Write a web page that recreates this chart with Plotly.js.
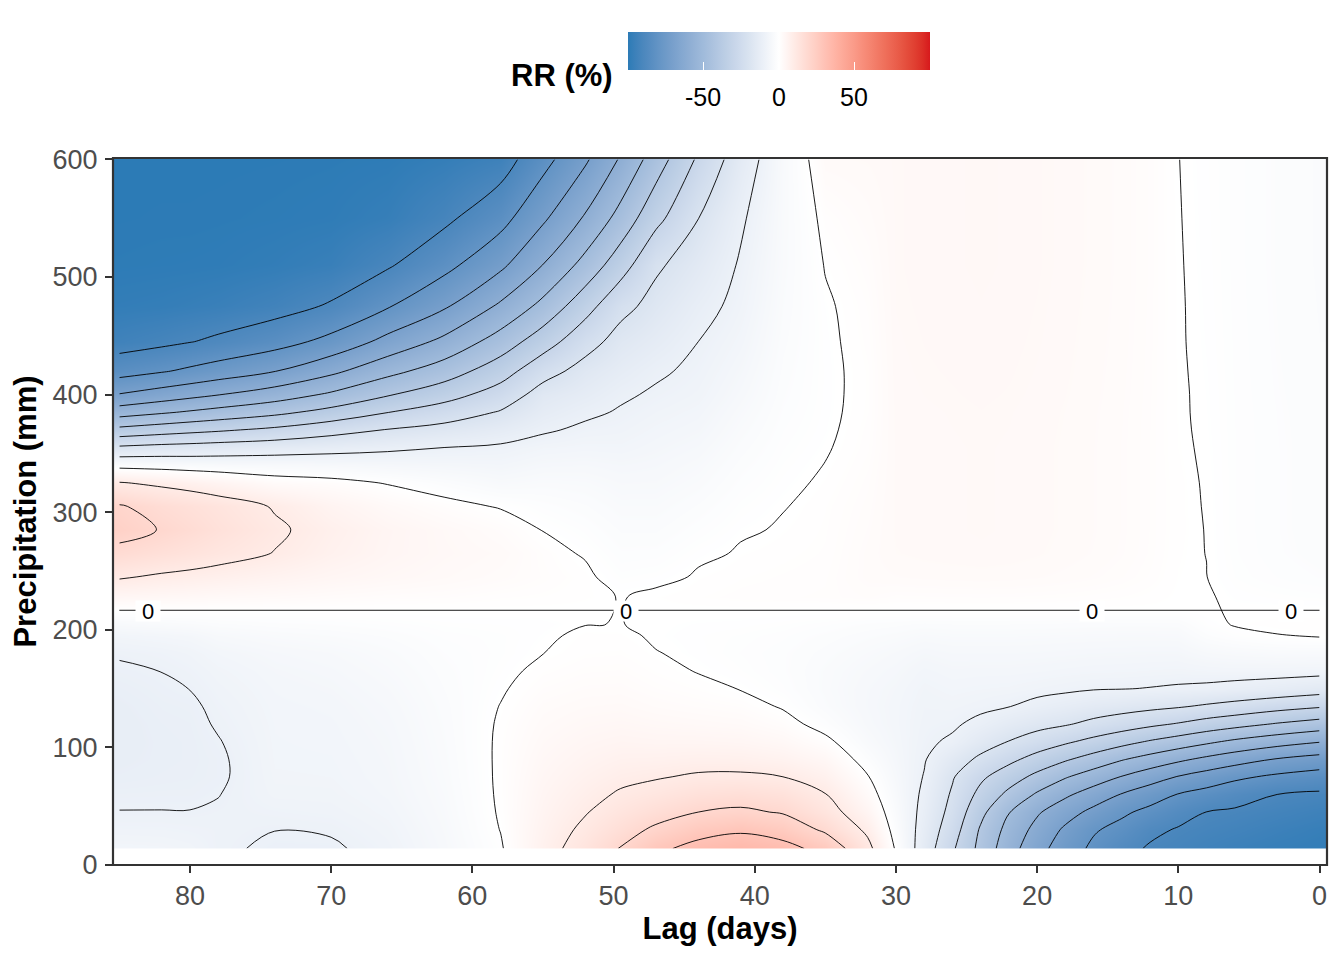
<!DOCTYPE html>
<html>
<head>
<meta charset="utf-8">
<script src="https://cdn.plot.ly/plotly-3.0.1.min.js"></script>
<style>html,body{margin:0;padding:0;background:#fff;}#chart{width:1344px;height:960px;}</style>
</head>
<body>
<div id="chart"></div>
<script>
// ---- data: lag (days) columns, precipitation (mm) rows, RR (%) values ----
const lags = [0, 3, 6, 8, 10, 12, 14, 16, 18, 20, 22, 24, 26, 28, 30, 32, 35, 38, 41, 44, 47, 49.5, 52, 55, 58, 62, 66, 70, 74, 78, 80, 82, 85];
const precip = [14, 30, 45, 60, 75, 90, 105, 120, 135, 150, 165, 180, 195, 205, 216.6, 228, 245, 265, 285, 305, 325, 340, 355, 370, 385, 400, 420, 445, 475, 510, 550, 600];
const refPrecip = 216.6; // centring value: RR = 0 % along this precipitation

const rrLag0 = [-98, -96.8, -94.6, -91.3, -84.3, -73.6, -59.4, -44, -28.9, -15.5, -7.8, -3.9, 0.2, 0.5, 0, -0.91, -1.82, -2.21, -2.29, -2.29, -2.29, -2.29, -2.29, -2.31, -2.34, -2.39, -2.44, -2.5, -2.55, -2.6, -2.6, -2.6];
const rrLag3 = [-97, -95.2, -92.8, -90, -81.8, -70.5, -55.9, -40.6, -26.3, -13.5, -7.5, -3.8, -0.15, 0.45, 0, -0.7, -1.4, -1.7, -1.76, -1.76, -1.76, -1.76, -1.76, -1.78, -1.8, -1.84, -1.88, -1.92, -1.96, -2, -2, -2];
const rrLag6 = [-95.5, -93.2, -91.1, -86.4, -78.1, -65.6, -51.7, -36.6, -23.1, -12.2, -7.3, -4.3, -1.0, 0.15, 0, -0.42, -0.84, -1.02, -1.06, -1.06, -1.06, -1.06, -1.06, -1.07, -1.08, -1.1, -1.13, -1.15, -1.18, -1.2, -1.2, -1.2];
const rrLag8 = [-94, -92.1, -90.1, -83.4, -74.3, -62, -48.1, -33.9, -21.1, -11.2, -7.5, -4.8, -2.1, -0.6, 0, 0.2, 0.02, -0.02, -0.04, -0.08, -0.12, -0.16, -0.2, -0.25, -0.28, -0.3, -0.35, -0.4, -0.45, -0.5, -0.55, -0.6];
const rrLag10 = [-92.3, -90.7, -86.6, -80.4, -70.5, -58, -44.4, -30.6, -19.1, -10.7, -7.8, -6.0, -4.2, -2.8, 0, 0.1, 0.22, 0.3, 0.35, 0.35, 0.35, 0.3, 0.25, 0.22, 0.2, 0.2, 0.18, 0.15, 0.15, 0.12, 0.08, 0.03];
const rrLag12 = [-91, -88, -82.6, -75.4, -65.6, -53.6, -40.8, -27.9, -17.7, -10.2, -7.6, -6.0, -4.3, -2.9, 0, 0.49, 0.98, 1.19, 1.23, 1.23, 1.23, 1.23, 1.23, 1.25, 1.26, 1.29, 1.32, 1.34, 1.37, 1.4, 1.4, 1.4];
const rrLag14 = [-87.1, -83, -78.3, -70.5, -60.4, -49.2, -36.7, -25, -16.3, -9.8, -7.4, -5.9, -4.3, -2.9, 0, 0.74, 1.47, 1.79, 1.85, 1.85, 1.85, 1.85, 1.85, 1.87, 1.89, 1.93, 1.97, 2.02, 2.06, 2.1, 2.1, 2.1];
const rrLag16 = [-81.9, -79, -72.5, -64.5, -54.8, -43.9, -32.6, -22.2, -15, -9.6, -7.3, -5.8, -4.2, -2.8, 0, 0.91, 1.82, 2.21, 2.29, 2.29, 2.29, 2.29, 2.29, 2.31, 2.34, 2.39, 2.44, 2.5, 2.55, 2.6, 2.6, 2.6];
const rrLag18 = [-75.1, -71.6, -66, -58.3, -49.2, -38.8, -28.5, -19.1, -13.3, -8.9, -7.0, -5.6, -4.1, -2.7, 0, 1.05, 2.1, 2.55, 2.64, 2.64, 2.64, 2.64, 2.64, 2.67, 2.7, 2.76, 2.82, 2.88, 2.94, 3, 3, 3];
const rrLag20 = [-66.5, -63, -58.8, -51.2, -42.5, -33.5, -24.3, -17.1, -11.7, -8.3, -6.7, -5.4, -4.0, -2.6, 0, 1.16, 2.31, 2.81, 2.9, 2.9, 2.9, 2.9, 2.9, 2.94, 2.97, 3.04, 3.1, 3.17, 3.23, 3.3, 3.3, 3.3];
const rrLag22 = [-55.9, -53.2, -49.6, -42.3, -35.4, -27.5, -20.2, -14.6, -9.8, -7.7, -6.5, -5.3, -3.9, -2.5, 0, 1.23, 2.45, 2.98, 3.08, 3.08, 3.08, 3.08, 3.08, 3.12, 3.15, 3.22, 3.29, 3.36, 3.43, 3.5, 3.5, 3.5];
const rrLag24 = [-42.8, -41.1, -37.4, -32.7, -28.2, -21.7, -15.9, -11.6, -8.7, -7.5, -6.5, -5.3, -3.9, -2.5, 0, 1.26, 2.52, 3.06, 3.17, 3.17, 3.17, 3.17, 3.17, 3.2, 3.24, 3.31, 3.38, 3.46, 3.53, 3.6, 3.6, 3.6];
const rrLag26 = [-28.6, -25.4, -22.9, -21.1, -19.2, -15.5, -10.9, -9.1, -8.0, -7.2, -6.4, -5.3, -3.9, -2.5, 0, 1.23, 2.45, 2.98, 3.08, 3.08, 3.08, 3.08, 3.08, 3.12, 3.15, 3.22, 3.29, 3.36, 3.43, 3.5, 3.5, 3.5];
const rrLag28 = [-14.6, -13.4, -12.3, -11.3, -10.3, -9.5, -8.9, -8.5, -8.2, -7.8, -7.0, -5.8, -4.2, -2.7, 0, 1.19, 2.38, 2.89, 2.99, 2.99, 2.99, 2.99, 2.99, 3.03, 3.06, 3.13, 3.2, 3.26, 3.33, 3.4, 3.4, 3.4];
const rrLag30 = [-0.7, -2.3, -3.4, -4.3, -5.1, -5.8, -6.3, -6.6, -6.6, -6.3, -5.7, -4.8, -3.5, -2.3, 0, 1.12, 2.24, 2.72, 2.82, 2.82, 2.82, 2.82, 2.82, 2.85, 2.88, 2.94, 3.01, 3.07, 3.14, 3.2, 3.2, 3.2];
const rrLag32 = [12.3, 8.4, 5.0, 2.4, 0.3, -2.0, -3.9, -5.0, -5.4, -5.3, -4.8, -4.0, -3.0, -2.0, 0, 1.5, 2.0, 2.0, 1.8, 1.6, 1.4, 1.2, 1.0, 0.9, 0.75, 0.7, 0.7, 0.9, 1.1, 1.5, 2.1, 2.8];
const rrLag35 = [27, 18.5, 13.3, 10.2, 7, 4, 1.1, -1.5, -3.0, -3.4, -3.3, -2.8, -2.1, -1.3, 0, 1.1, 1.0, 0.8, 0.7, 0.6, 0.3, 0.05, -0.2, -0.4, -0.5, -0.55, -0.55, -0.5, -0.35, 0.15, 0.9, 2.6];
const rrLag38 = [33, 26, 19.3, 14.5, 10, 6.3, 3.6, 1.4, -0.3, -1.3, -1.7, -1.7, -1.3, -0.8, 0, 1.0, 0.8, 0.5, 0.2, -0.1, -0.5, -0.8, -1.1, -1.4, -1.7, -2, -2.3, -2.7, -3.1, -3.5, -3.7, -4.0];
const rrLag41 = [35, 28.8, 21.5, 16, 11, 7.3, 4.7, 2.7, 1.2, -0.1, -0.8, -1.1, -0.9, -0.5, 0, 0.9, 0.6, 0.2, -0.3, -0.9, -1.6, -2.2, -2.8, -3.5, -4.2, -5, -5.9, -7, -8.2, -9.3, -11, -14.6];
const rrLag44 = [33, 26.5, 20, 15, 10.8, 7.5, 5, 3.1, 1.7, 0.7, -0.1, -0.5, -0.6, -0.4, 0, 0.6, 0.2, -0.5, -1.4, -2.4, -3.5, -4.3, -5.2, -6.2, -7.1, -8.0, -8.9, -10, -12.3, -15.6, -20.1, -28.5];
const rrLag47 = [28, 21.5, 16.5, 12.5, 9.5, 7, 5, 3.5, 2.2, 1.3, 0.6, 0.1, -0.2, -0.15, 0, 0.2, -0.6, -1.6, -2.6, -3.6, -4.6, -5.4, -6.3, -7.2, -8.2, -9.3, -10.8, -13.8, -17.2, -21.3, -32.8, -45];
const rrLag49 = [20.5, 16.5, 13.3, 10.7, 8.6, 6.8, 5.3, 4.0, 2.9, 2.0, 1.3, 0.7, 0.3, 0.02, 0, -0.05, -0.9, -1.7, -2.6, -3.6, -4.7, -5.8, -7.2, -8.4, -9.5, -10.8, -13.5, -16.8, -22.5, -34.3, -46.5, -59];
const rrLag52 = [13.5, 11.4, 9.6, 8.1, 6.8, 5.6, 4.6, 3.6, 2.7, 1.9, 1.2, 0.6, 0.35, -0.03, 0, 0.3, 0.4, -0.3, -1.2, -2.4, -3.8, -5.3, -7, -8.9, -11.1, -13.6, -16.8, -23.4, -33.7, -46.6, -58.9, -71.4];
const rrLag55 = [7, 6.3, 5.6, 5, 4.4, 3.8, 3.2, 2.6, 2, 1.3, 0.6, -0.02, -0.3, -0.5, 0, 0.6, 1.2, 1.0, -0.1, -1.5, -3.5, -5.5, -7.5, -10.8, -13.8, -16.3, -23.5, -34.6, -47.2, -59.8, -71.6, -83.3];
const rrLag58 = [-0.5, 0.1, 0.4, 0.55, 0.6, 0.6, 0.55, 0.4, 0.1, -0.3, -0.65, -0.9, -0.9, -0.6, 0, 0.8, 2.0, 2.6, 1.7, -0.3, -4.2, -6.7, -9.0, -13.8, -19.3, -25.6, -34.4, -45.6, -58.3, -72, -83.4, -94.5];
const rrLag62 = [-5, -4.6, -4.2, -3.9, -3.6, -3.4, -3.2, -3, -2.8, -2.5, -2.2, -1.8, -1.3, -0.75, 0, 1.3, 2.8, 3.4, 3.2, 1.2, -2.3, -6.2, -10, -16.9, -25, -34, -45.1, -57.6, -71.2, -82.9, -92, -97.5];
const rrLag66 = [-8.5, -7.9, -7.2, -6.6, -6.3, -6.1, -5.9, -5.6, -5.2, -4.7, -4.1, -3.4, -2.4, -1.3, 0, 1.5, 3.6, 4.7, 4.9, 3, -0.3, -5.7, -11.3, -19.6, -30.2, -40.8, -53, -67, -80.7, -91, -97, -99.3];
const rrLag70 = [-10.6, -9.6, -8.6, -7.9, -7.5, -7.3, -7.1, -6.9, -6.6, -6.1, -5.5, -4.7, -3.2, -1.8, 0, 2, 4.6, 6.8, 7.5, 5.6, 1.5, -4.9, -12.8, -23.5, -36.8, -48.5, -62.3, -77.2, -89, -96.3, -98.9, -99.7];
const rrLag74 = [-10.6, -9.95, -9.0, -8.0, -7.6, -7.4, -7.3, -7.2, -7.0, -6.7, -6.2, -5.4, -3.8, -2.1, 0, 2.6, 6, 9.8, 11, 9.5, 2.5, -4.4, -14.3, -28, -42.4, -55, -70.3, -83.9, -93.5, -98, -99.4, -99.9];
const rrLag78 = [-9.4, -9.3, -9.6, -10.1, -10.6, -10.6, -10.2, -9.6, -9.1, -8.5, -7.8, -6.7, -4.8, -2.7, 0, 3.1, 7.5, 12.5, 15, 13.5, 5.6, -4, -15.6, -31.3, -46.6, -60.3, -75.6, -88.4, -96, -99, -99.7, -100];
const rrLag80 = [-7.9, -9.0, -9.9, -10.7, -11.1, -11.3, -11.3, -11.1, -10.7, -9.95, -9.1, -8.1, -6.2, -3.3, 0, 3.5, 8.3, 14, 17.4, 15.3, 7.2, -3.6, -16.4, -32.8, -48.9, -62.9, -78.3, -90.3, -96.8, -99.2, -99.8, -100];
const rrLag82 = [-7.3, -8.7, -9.9, -10.7, -11.3, -11.6, -11.6, -11.4, -11, -10.5, -9.95, -8.9, -6.7, -3.7, 0, 3.8, 9, 15.5, 19.6, 17, 8.5, -3, -17, -34.5, -51.2, -65.5, -80.8, -92, -97.5, -99.3, -99.8, -100];
const rrLag85 = [-7, -8.6, -9.9, -10.8, -11.7, -12.2, -12.5, -12.5, -12.2, -11.5, -10.6, -9.6, -7.4, -4.3, 0, 4.3, 10.7, 17.8, 22.8, 20.7, 10.4, -2.4, -18.5, -37.2, -54.6, -69.5, -84, -94, -98, -99.5, -99.9, -100];

const rrColumns = [rrLag0, rrLag3, rrLag6, rrLag8, rrLag10, rrLag12, rrLag14, rrLag16, rrLag18, rrLag20, rrLag22, rrLag24, rrLag26, rrLag28, rrLag30, rrLag32, rrLag35, rrLag38, rrLag41, rrLag44, rrLag47, rrLag49, rrLag52, rrLag55, rrLag58, rrLag62, rrLag66, rrLag70, rrLag74, rrLag78, rrLag80, rrLag82, rrLag85];
const xTicks = [0, 10, 20, 30, 40, 50, 60, 70, 80];
const yTicks = [0, 100, 200, 300, 400, 500, 600];
const legendTicks = [-50, 0, 50];
const zeroLabelLags = [83, 49.1, 16.1, 2.05];

// z[row][col]
const z = precip.map((p, i) => rrColumns.map(col => col[i]));
// for the 0 % contour away from the reference line: RR divided by the distance to the reference precipitation
const gIdx = precip.map((p, i) => i).filter(i => precip[i] !== refPrecip);
const gY = gIdx.map(i => precip[i]);
const gZ = gIdx.map(i => rrColumns.map(col => col[i] / (precip[i] - refPrecip)));

// ---- diverging colour scale interpolated in CIE Lab (low blue, white, high red) ----
function hexToRgb(h){return [parseInt(h.slice(1,3),16),parseInt(h.slice(3,5),16),parseInt(h.slice(5,7),16)];}
function rgbToLab(c){
  const lin=v=>{v/=255;return v<=0.04045?v/12.92:Math.pow((v+0.055)/1.055,2.4);};
  const R=lin(c[0]),G=lin(c[1]),B=lin(c[2]);
  const X=(0.4124564*R+0.3575761*G+0.1804375*B)/0.95047;
  const Y=(0.2126729*R+0.7151522*G+0.0721750*B);
  const Z=(0.0193339*R+0.1191920*G+0.9503041*B)/1.08883;
  const f=t=>t>0.008856?Math.cbrt(t):7.787*t+16/116;
  const fx=f(X),fy=f(Y),fz=f(Z);
  return [116*fy-16,500*(fx-fy),200*(fy-fz)];
}
function labToRgb(l){
  const fy=(l[0]+16)/116, fx=fy+l[1]/500, fz=fy-l[2]/200;
  const inv=t=>{const t3=t*t*t;return t3>0.008856?t3:(t-16/116)/7.787;};
  const X=inv(fx)*0.95047, Y=inv(fy), Z=inv(fz)*1.08883;
  const R=3.2404542*X-1.5371385*Y-0.4985314*Z;
  const G=-0.9692660*X+1.8760108*Y+0.0415560*Z;
  const B=0.0556434*X-0.2040259*Y+1.0572252*Z;
  const g=v=>{v=v<=0.0031308?12.92*v:1.055*Math.pow(v,1/2.4)-0.055;return Math.round(Math.max(0,Math.min(1,v))*255);};
  return [g(R),g(G),g(B)];
}
const lowLab=rgbToLab(hexToRgb('#2c7bb6')), midLab=rgbToLab(hexToRgb('#ffffff')), highLab=rgbToLab(hexToRgb('#d7191c'));
const colorscale=[];
const nStops=40;
for(let i=0;i<=nStops;i++){
  const t=i/nStops;
  let a,b,s;
  if(t<=0.5){a=lowLab;b=midLab;s=t/0.5;}else{a=midLab;b=highLab;s=(t-0.5)/0.5;}
  const lab=[a[0]+(b[0]-a[0])*s,a[1]+(b[1]-a[1])*s,a[2]+(b[2]-a[2])*s];
  colorscale.push([t,'rgb('+labToRgb(lab).join(',')+')']);
}

const FONT='Liberation Sans, Arial, sans-serif';
const CB_X=0.5484, CB_LEN=302, PLOT_W=1214.5;

const heat = {
  type:'heatmap', x:lags, y:precip, z:z,
  zmin:-100, zmax:100, zauto:false,
  colorscale:colorscale, zsmooth:'best', hoverinfo:'skip',
  colorbar:{
    orientation:'h', x:CB_X, xanchor:'center', y:1.178, yanchor:'top',
    len:CB_LEN, lenmode:'pixels', thickness:38, thicknessmode:'pixels',
    xpad:0, ypad:0, outlinewidth:0,
    tickmode:'array', tickvals:legendTicks, showticklabels:false,
    ticks:'inside', ticklen:8, tickwidth:1.5, tickcolor:'white',
    title:{text:''}
  }
};

const lineStyle = {color:'#000000', width:0.9, smoothing:1};
const negLines = {
  type:'contour', x:lags, y:precip, z:z, autocontour:false,
  contours:{start:-90, end:-10, size:10, coloring:'none', showlabels:false},
  line:lineStyle, showscale:false, hoverinfo:'skip'
};
const posLines = {
  type:'contour', x:lags, y:precip, z:z, autocontour:false,
  contours:{start:10, end:30, size:10, coloring:'none', showlabels:false},
  line:lineStyle, showscale:false, hoverinfo:'skip'
};
const zeroLines = {
  type:'contour', x:lags, y:gY, z:gZ, autocontour:false,
  contours:{start:0, end:1000, size:1000, coloring:'none', showlabels:false},
  line:lineStyle, showscale:false, hoverinfo:'skip'
};
const refLine = {
  type:'scatter', mode:'lines', x:[lags[0], lags[lags.length-1]], y:[refPrecip, refPrecip],
  line:{color:'#000000', width:0.9}, hoverinfo:'skip', showlegend:false
};

const annotations = zeroLabelLags.map(l => ({
  x:l, y:refPrecip, xref:'x', yref:'y', text:'0', showarrow:false,
  font:{family:FONT, size:22, color:'#000000'},
  bgcolor:'#ffffff', borderpad:0, width:24, height:20, yshift:-1
}));
annotations.push({
  x:0.4135, y:1.117, xref:'paper', yref:'paper', xanchor:'right', yanchor:'middle',
  text:'<b>RR (%)</b>', showarrow:false, font:{family:FONT, size:31, color:'#000000'}
});
legendTicks.forEach(v => annotations.push({
  x:CB_X + (v/200*CB_LEN)/PLOT_W, y:1.0863, xref:'paper', yref:'paper', xanchor:'center', yanchor:'middle',
  text:String(v), showarrow:false, font:{family:FONT, size:25, color:'#000000'}
}));

const axisCommon = {
  ticks:'outside', ticklen:7, tickwidth:2, tickcolor:'#333333',
  tickfont:{family:FONT, size:27, color:'#4d4d4d'},
  showgrid:false, zeroline:false, showline:false, automargin:false, tickmode:'array'
};

const layout = {
  width:1344, height:960,
  paper_bgcolor:'#ffffff', plot_bgcolor:'#ffffff',
  margin:{l:113, r:16.5, t:158, b:95, pad:0},
  showlegend:false,
  xaxis:Object.assign({}, axisCommon, {
    range:[85.45, -0.53], tickvals:xTicks, ticktext:xTicks.map(String),
    title:{text:'<b>Lag (days)</b>', font:{family:FONT, size:31, color:'#000000'}, standoff:5}
  }),
  yaxis:Object.assign({}, axisCommon, {
    range:[0, 601.2], tickvals:yTicks, ticktext:yTicks.map(String), ticklabelstandoff:2,
    title:{text:'<b>Precipitation (mm)</b>', font:{family:FONT, size:31, color:'#000000'}, standoff:6}
  }),
  shapes:[
    {type:'rect', xref:'paper', yref:'y', x0:0, x1:1, y0:0, y1:precip[0], fillcolor:'#ffffff', line:{width:0}, layer:'above'},
    {type:'rect', xref:'paper', yref:'paper', x0:0, x1:1, y0:0, y1:1, line:{color:'#333333', width:2.2}, fillcolor:'rgba(0,0,0,0)', layer:'above'}
  ],
  annotations:annotations
};

Plotly.newPlot('chart', [heat, negLines, posLines, zeroLines, refLine], layout, {displayModeBar:false, staticPlot:true});
</script>
</body>
</html>
